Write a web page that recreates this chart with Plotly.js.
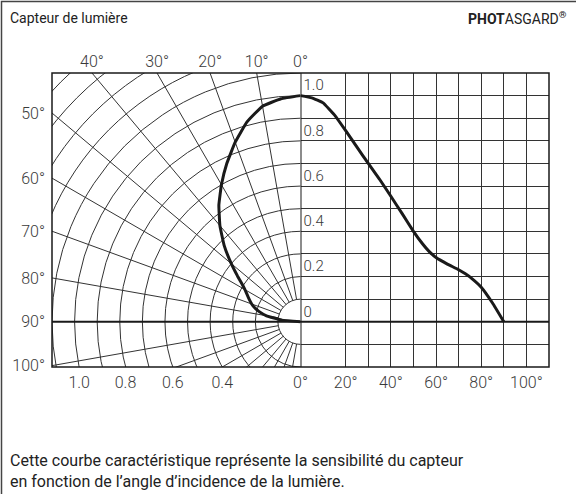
<!DOCTYPE html>
<html><head><meta charset="utf-8">
<script src="https://cdn.plot.ly/plotly-3.0.1.min.js"></script>
<style>html,body{margin:0;padding:0;background:#fff;} #chart{width:576px;height:494px;}</style>
</head><body><div id="chart"></div>
<script>
// ---- data ----
const angleDeg    = [0, 5, 10, 15, 20, 25, 30, 35, 40, 45, 50, 54, 57, 60, 65, 70, 73, 76, 80, 85, 90];
const sensitivity = [1.0, 0.99, 0.968, 0.915, 0.845, 0.772, 0.70, 0.63, 0.555, 0.478, 0.40, 0.345, 0.31, 0.284, 0.255, 0.23, 0.212, 0.19, 0.153, 0.083, 0.0];
const polarTopAngles   = [40, 30, 20, 10, 0];
const polarLeftAngles  = [50, 60, 70, 80, 90, 100];
const polarRadii       = [1.0, 0.8, 0.6, 0.4];
const polarRadiusLabels = ['1.0', '0.8', '0.6', '0.4'];
const angleTicks       = [0, 20, 40, 60, 80, 100];
const sensTicks        = [0, 0.2, 0.4, 0.6, 0.8, 1.0];
const sensTickLabels   = ['0', '0.2', '0.4', '0.6', '0.8', '1.0'];
const titleText   = 'Capteur de lumière';
const brandText   = '<b>PHOT</b>ASGARD<b><sup>®</sup></b>';
const captionText = 'Cette courbe caractéristique représente la sensibilité du capteur<br>en fonction de l\u2019angle d\u2019incidence de la lumière.';

// ---- geometry / style ----
const Y_MIN = -0.2, Y_MAX = 1.1, X_MIN = -1.1, ANG_MAX = 110;
const GRID = '#333333', DARK = '#1a1a1a', TXT = '#3a3a3a';
const FONT = 'Roboto, "DejaVu Sans", sans-serif';
const rad = d => d * Math.PI / 180;

// polar curve (left) and cartesian curve (right) from the same data
const polarX = angleDeg.map((a, i) => -sensitivity[i] * Math.sin(rad(a)));
const polarY = angleDeg.map((a, i) =>  sensitivity[i] * Math.cos(rad(a)));

const curveLine = {color: DARK, width: 3, shape: 'spline', smoothing: 0.3};
const traces = [
  {x: polarX, y: polarY, xaxis: 'x', yaxis: 'y', mode: 'lines', line: curveLine, hoverinfo: 'skip'},
  {x: angleDeg, y: sensitivity, xaxis: 'x2', yaxis: 'y2', mode: 'lines', line: curveLine, hoverinfo: 'skip'},
  {x: [], y: [], xaxis: 'x3', yaxis: 'y', mode: 'lines', hoverinfo: 'skip'}
];

// polar grid shapes
const shapes = [];
for (let k = 1; k <= 16; k++) {
  const r = k / 10;
  shapes.push({type: 'circle', xref: 'x', yref: 'y', x0: -r, y0: -r, x1: r, y1: r,
    line: {color: GRID, width: 1}, layer: 'below'});
}
for (let a = 10; a <= 170; a += 10) {
  if (a === 90) continue;
  const t = rad(a);
  shapes.push({type: 'line', xref: 'x', yref: 'y',
    x0: -0.1 * Math.sin(t), y0: 0.1 * Math.cos(t), x1: -3 * Math.sin(t), y1: 3 * Math.cos(t),
    line: {color: GRID, width: 1}, layer: 'below'});
}
// thick axes lines
shapes.push({type: 'line', xref: 'paper', yref: 'y', x0: 0, x1: 1, y0: 0, y1: 0, line: {color: DARK, width: 2}, layer: 'above'});
shapes.push({type: 'line', xref: 'x2', yref: 'paper', x0: 0, x1: 0, y0: 0, y1: 1, line: {color: DARK, width: 2}, layer: 'above'});
// plot frame
shapes.push({type: 'rect', xref: 'paper', yref: 'paper', x0: 0, x1: 1, y0: 0, y1: 1, line: {color: DARK, width: 1.5}, layer: 'above'});
// outer card border (left + top)
const W = 576, H = 494, ML = 52, MR = 27, MT = 73, MB = 127;
const PW = W - ML - MR, PH = H - MT - MB;
const px = p => (p - ML) / PW, py = p => (H - MB - p) / PH;
shapes.push({type: 'path', xref: 'paper', yref: 'paper',
  path: `M ${px(1.5)} ${py(H)} L ${px(1.5)} ${py(1.5)} L ${px(W)} ${py(1.5)}`,
  line: {color: '#444', width: 1.5}, layer: 'above'});

const tickFont = {family: FONT, size: 16, color: TXT, weight: 300};

// left bottom axis: radius labels + the "0°" of the angle axis (at the shared x = 0 boundary)
const leftBottomVals = polarRadii.map(r => -Math.sqrt(r * r - Y_MIN * Y_MIN)).concat([angleTicks[0]]);
const leftBottomText = polarRadiusLabels.concat([angleTicks[0] + '°']);
const rightAngleTicks = angleTicks.filter(a => a > 0);

const layout = {
  width: W, height: H,
  margin: {l: ML, r: MR, t: MT, b: MB},
  paper_bgcolor: '#fff', plot_bgcolor: '#fff',
  showlegend: false, hovermode: false,
  xaxis: {domain: [0, 0.5], range: [X_MIN, 0], anchor: 'y', showgrid: false, zeroline: false,
    tickmode: 'array', tickvals: leftBottomVals, ticktext: leftBottomText,
    ticks: '', tickfont: tickFont, ticklabelstandoff: 4},
  xaxis3: {overlaying: 'x', side: 'top', range: [X_MIN, 0], anchor: 'y', showgrid: false, zeroline: false,
    tickmode: 'array', tickvals: polarTopAngles.map(a => -Y_MAX * Math.tan(rad(a))), ticktext: polarTopAngles.map(a => a + '°'),
    ticks: '', tickfont: tickFont, ticklabelstandoff: 2},
  yaxis: {domain: [0, 1], range: [Y_MIN, Y_MAX], anchor: 'x', showgrid: false, zeroline: false,
    tickmode: 'array', tickvals: polarLeftAngles.map(a => -X_MIN / Math.tan(rad(a))), ticktext: polarLeftAngles.map(a => a + '°'),
    ticks: '', tickfont: tickFont, ticklabelstandoff: 6},
  xaxis2: {domain: [0.5, 1], range: [0, ANG_MAX], anchor: 'y2', showgrid: true, gridcolor: GRID, gridwidth: 1, zeroline: false,
    tickmode: 'array', tickvals: rightAngleTicks, ticktext: rightAngleTicks.map(a => a + '°'), ticks: '', tickfont: tickFont, ticklabelstandoff: 4,
    minor: {tickmode: 'linear', tick0: 0, dtick: 10, showgrid: true, gridcolor: GRID, gridwidth: 1, ticks: ''}},
  yaxis2: {domain: [0, 1], range: [Y_MIN, Y_MAX], anchor: 'x2', showgrid: true, gridcolor: GRID, gridwidth: 1, zeroline: false,
    tickmode: 'array', tickvals: sensTicks, ticktext: sensTickLabels, ticks: '', ticklabelposition: 'inside top',
    tickfont: {family: FONT, size: 15, color: TXT, weight: 300},
    minor: {tickmode: 'linear', tick0: 0, dtick: 0.1, showgrid: true, gridcolor: GRID, gridwidth: 1, ticks: ''}},
  shapes: shapes,
  annotations: [
    {text: titleText, xref: 'paper', yref: 'paper', x: px(8), y: py(18), xanchor: 'left', yanchor: 'middle', showarrow: false,
     font: {family: FONT, size: 14, color: '#222'}},
    {text: brandText, xref: 'paper', yref: 'paper', x: px(569), y: py(18), xanchor: 'right', yanchor: 'middle', showarrow: false,
     font: {family: FONT, size: 14, color: '#222'}},
    {text: captionText, xref: 'paper', yref: 'paper', x: px(8), y: py(471), xanchor: 'left', yanchor: 'middle', align: 'left', showarrow: false,
     font: {family: FONT, size: 16, color: '#222'}}
  ]
};

Plotly.newPlot('chart', traces, layout, {displayModeBar: false, staticPlot: true});
</script></body></html>
